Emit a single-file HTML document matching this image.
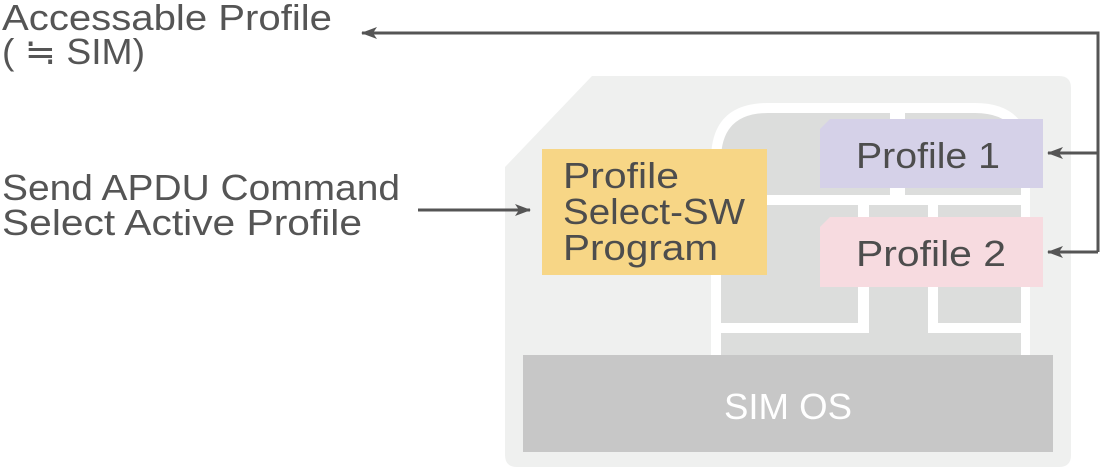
<!DOCTYPE html>
<html><head><meta charset="utf-8"><style>
html,body{margin:0;padding:0;background:#fff;}
svg{display:block;}
text{font-family:"Liberation Sans",sans-serif;}
</style></head><body>
<svg width="1100" height="468" viewBox="0 0 1100 468" xmlns="http://www.w3.org/2000/svg">
<defs>
<marker id="ah" markerWidth="16" markerHeight="12" refX="15" refY="6" orient="auto" markerUnits="userSpaceOnUse">
<path d="M0,0 L16,6 L0,12 L4,6 Z" fill="#555"/>
</marker>
</defs>
<path d="M592,76 L1059,76 Q1071,76 1071,88 L1071,455 Q1071,467 1059,467 L517,467 Q505,467 505,455 L505,167 Z" fill="#eff0ef"/>
<path d="M711,355 L711,160 Q711,103 768,103 L975,103 Q1030,103 1030,158 L1030,355 Z" fill="#fff"/>
<g fill="#dcdddc">
<path d="M721,195 L721,160 Q721,113 768,113 L890,113 L890,195 Z"/>
<path d="M905,113 L975,113 Q1021,113 1021,158 L1021,195 L905,195 Z"/>
<rect x="721" y="205" width="137" height="118"/>
<rect x="869" y="205" width="59" height="150"/>
<rect x="938" y="205" width="83" height="118"/>
<rect x="721" y="333" width="148" height="22"/>
<rect x="902" y="333" width="119" height="22"/>
</g>
<rect x="858" y="323" width="11" height="10" fill="#fff"/>
<rect x="542" y="149" width="225" height="126" fill="#f7d686"/>
<g fill="#4d4d4d" font-size="36">
<text x="563" y="188" textLength="116" lengthAdjust="spacingAndGlyphs">Profile</text>
<text x="563" y="224" textLength="182" lengthAdjust="spacingAndGlyphs">Select-SW</text>
<text x="563" y="260" textLength="155" lengthAdjust="spacingAndGlyphs">Program</text>
</g>
<path d="M830,119 L1043,119 L1043,188 L820,188 L820,129 Z" fill="#d5d1e8"/>
<text x="856" y="168" fill="#4d4d4d" font-size="36" textLength="144" lengthAdjust="spacingAndGlyphs">Profile 1</text>
<path d="M830,217 L1043,217 L1043,287 L820,287 L820,227 Z" fill="#f7dbe0"/>
<text x="856" y="266" fill="#4d4d4d" font-size="36" textLength="150" lengthAdjust="spacingAndGlyphs">Profile 2</text>
<rect x="523" y="355" width="530" height="97" fill="#c7c7c7"/>
<text x="724" y="419" fill="#fff" font-size="36" textLength="128" lengthAdjust="spacingAndGlyphs">SIM OS</text>
<g stroke="#555" stroke-width="3" fill="none">
<path d="M1098,252 L1098,33 L362,33" marker-end="url(#ah)"/>
<path d="M1098,153 L1048,153" marker-end="url(#ah)"/>
<path d="M1098,252 L1048,252" marker-end="url(#ah)"/>
<path d="M418,210 L530,210" marker-end="url(#ah)"/>
</g>
<g fill="#555" font-size="36">
<text x="2" y="30" textLength="330" lengthAdjust="spacingAndGlyphs">Accessable Profile</text>
<text x="2" y="64" textLength="143" lengthAdjust="spacingAndGlyphs">( ≒ SIM)</text>
<text x="2" y="200" textLength="398" lengthAdjust="spacingAndGlyphs">Send APDU Command</text>
<text x="2" y="235" textLength="360" lengthAdjust="spacingAndGlyphs">Select Active Profile</text>
</g>
</svg>
</body></html>
